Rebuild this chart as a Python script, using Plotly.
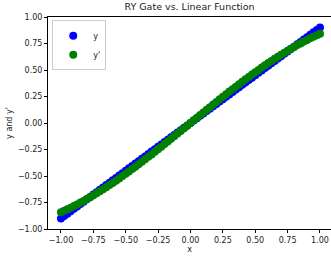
import plotly.graph_objects as go

x_vals = [-1.000, -0.975, -0.950, -0.925, -0.900, -0.875, -0.850, -0.825, -0.800, -0.775,
          -0.750, -0.725, -0.700, -0.675, -0.650, -0.625, -0.600, -0.575, -0.550, -0.525,
          -0.500, -0.475, -0.450, -0.425, -0.400, -0.375, -0.350, -0.325, -0.300, -0.275,
          -0.250, -0.225, -0.200, -0.175, -0.150, -0.125, -0.100, -0.075, -0.050, -0.025,
          0.000,
          0.025, 0.050, 0.075, 0.100, 0.125, 0.150, 0.175, 0.200, 0.225, 0.250,
          0.275, 0.300, 0.325, 0.350, 0.375, 0.400, 0.425, 0.450, 0.475, 0.500,
          0.525, 0.550, 0.575, 0.600, 0.625, 0.650, 0.675, 0.700, 0.725, 0.750,
          0.775, 0.800, 0.825, 0.850, 0.875, 0.900, 0.925, 0.950, 0.975, 1.000]
y_vals = [-0.900, -0.878, -0.855, -0.833, -0.810, -0.788, -0.765, -0.743, -0.720, -0.698,
          -0.675, -0.653, -0.630, -0.608, -0.585, -0.563, -0.540, -0.518, -0.495, -0.473,
          -0.450, -0.428, -0.405, -0.383, -0.360, -0.338, -0.315, -0.293, -0.270, -0.248,
          -0.225, -0.203, -0.180, -0.158, -0.135, -0.113, -0.090, -0.068, -0.045, -0.023,
          0.000,
          0.023, 0.045, 0.068, 0.090, 0.113, 0.135, 0.158, 0.180, 0.203, 0.225,
          0.248, 0.270, 0.293, 0.315, 0.338, 0.360, 0.383, 0.405, 0.428, 0.450,
          0.473, 0.495, 0.518, 0.540, 0.563, 0.585, 0.608, 0.630, 0.653, 0.675,
          0.698, 0.720, 0.743, 0.765, 0.788, 0.810, 0.833, 0.855, 0.878, 0.900]
y_prime = [-0.841, -0.828, -0.813, -0.799, -0.783, -0.768, -0.751, -0.735, -0.717, -0.700,
           -0.682, -0.663, -0.644, -0.625, -0.605, -0.585, -0.565, -0.544, -0.523, -0.501,
           -0.479, -0.457, -0.435, -0.412, -0.389, -0.366, -0.343, -0.319, -0.296, -0.272,
           -0.247, -0.223, -0.199, -0.174, -0.149, -0.125, -0.100, -0.075, -0.050, -0.025,
           0.000,
           0.025, 0.050, 0.075, 0.100, 0.125, 0.149, 0.174, 0.199, 0.223, 0.247,
           0.272, 0.296, 0.319, 0.343, 0.366, 0.389, 0.412, 0.435, 0.457, 0.479,
           0.501, 0.523, 0.544, 0.565, 0.585, 0.605, 0.625, 0.644, 0.663, 0.682,
           0.700, 0.717, 0.735, 0.751, 0.768, 0.783, 0.799, 0.813, 0.828, 0.841]

x_ticks = [-1.0, -0.75, -0.5, -0.25, 0.0, 0.25, 0.5, 0.75, 1.0]
x_tick_text = ["\u22121.00", "\u22120.75", "\u22120.50", "\u22120.25", "0.00", "0.25", "0.50", "0.75", "1.00"]
y_ticks = [-1.0, -0.75, -0.5, -0.25, 0.0, 0.25, 0.5, 0.75, 1.0]
y_tick_text = ["\u22121.00", "\u22120.75", "\u22120.50", "\u22120.25", "0.00", "0.25", "0.50", "0.75", "1.00"]

font = "DejaVu Sans"

fig = go.Figure()
fig.add_trace(go.Scatter(x=x_vals, y=y_vals, mode="markers", name="y",
                         marker=dict(color="blue", size=8, line=dict(width=0))))
fig.add_trace(go.Scatter(x=x_vals, y=y_prime, mode="markers", name="y'",
                         marker=dict(color="green", size=8, line=dict(width=0))))

fig.update_layout(
    width=331, height=261,
    margin=dict(l=48, r=0, t=17, b=32),
    paper_bgcolor="white", plot_bgcolor="white",
    font=dict(family=font, size=8, color="#222"),
    title=dict(text="RY Gate vs. Linear Function", x=0.5, xanchor="center",
               xref="paper", y=1.0, yref="container", yanchor="top",
               pad=dict(t=3), font=dict(size=9.5, color="#222")),
    showlegend=True,
    legend=dict(x=0.015, y=0.985, xanchor="left", yanchor="top",
                bordercolor="#cccccc", borderwidth=1, bgcolor="white",
                font=dict(size=8), itemsizing="trace", itemwidth=30,
                tracegroupgap=0),
    xaxis=dict(range=[-1.1, 1.085], tickvals=x_ticks, ticktext=x_tick_text,
               showgrid=False, zeroline=False, showline=True, mirror=True,
               linecolor="black", linewidth=1, ticks="outside", ticklen=3,
               tickcolor="black", automargin=False,
               title=dict(text="x", font=dict(size=8), standoff=2)),
    yaxis=dict(range=[-1.0, 1.0], tickvals=y_ticks, ticktext=y_tick_text,
               showgrid=False, zeroline=False, showline=True, mirror=False,
               linecolor="black", linewidth=1, ticks="outside", ticklen=3,
               tickcolor="black", automargin=False,
               title=dict(text="y and y'", font=dict(size=8), standoff=4)),
)

fig.write_html("out.html",
               config={"displayModeBar": False},
               post_script="document.body.style.margin='0';document.body.style.padding='0';")
